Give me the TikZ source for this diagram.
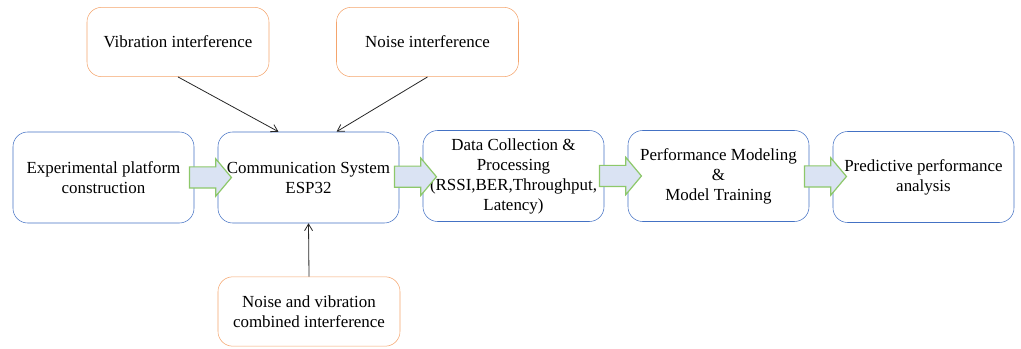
\documentclass[tikz,border=0pt]{standalone}
\usepackage{fontspec}
\setmainfont{Liberation Serif}
\usetikzlibrary{arrows.meta,positioning,calc,shapes.arrows}
\definecolor{stepblue}{HTML}{4472C4}
\definecolor{noiseorange}{HTML}{F4A46C}
\definecolor{arrgreen}{HTML}{8DC86A}
\definecolor{arrfill}{HTML}{DAE3F3}
\tikzset{box/.style={draw=stepblue,rounded corners=11pt,align=center,minimum width=135.75pt,minimum height=68.25pt,inner sep=1pt,font=\fontsize{12.7}{15}\selectfont},src/.style={draw=noiseorange,rounded corners=11pt,align=center,minimum width=136.5pt,minimum height=52pt,inner sep=1pt,font=\fontsize{12.7}{15}\selectfont},arrow/.style={-{Straight Barb[length=5pt,width=6pt]},black!85,line width=0.6pt},blockarr/.style={single arrow,draw=arrgreen,fill=arrfill,line width=0.9pt,minimum height=31.5pt,inner sep=7.5pt,single arrow head extend=6pt,single arrow tip angle=100,anchor=center}}

\begin{document}
\begin{tikzpicture}[x=0.75pt,y=-0.75pt]
\useasboundingbox (0,0) rectangle (1021,349);
\node[box] (exp) at (103.5,177.5) {Experimental platform\\construction};
\node[box] (comm) at (308.5,177.5) {Communication System\\ESP32};
\node[box] (data) at (513.5,176) {Data Collection \&\\Processing\\(RSSI,BER,Throughput,\\Latency)};
\node[box] (perf) at (718.5,176) {Performance Modeling\\\&\\Model Training};
\node[box] (pred) at (923.5,177) {Predictive performance\\analysis};
\node[src] (vib) at (178,42) {Vibration interference};
\node[src] (noise) at (427.5,42) {Noise interference};
\node[src] (comb) at (309,311.5) {Noise and vibration\\combined interference};
\draw[arrow] (vib.south) -- ($(comm.north)+(-30,0)$);
\draw[arrow] (noise.south) -- ($(comm.north)+(28,0)$);
\draw[arrow] (comb.north) -- (comm.south);
\node[blockarr] (a1) at ($(exp.east)!0.5!(comm.west)$) {};
\node[blockarr] (a2) at ($(comm.east)!0.5!(data.west)$) {};
\node[blockarr] (a3) at ($(data.east)!0.5!(perf.west)$) {};
\node[blockarr] (a4) at ($(perf.east)!0.5!(pred.west)$) {};
\end{tikzpicture}
\end{document}
